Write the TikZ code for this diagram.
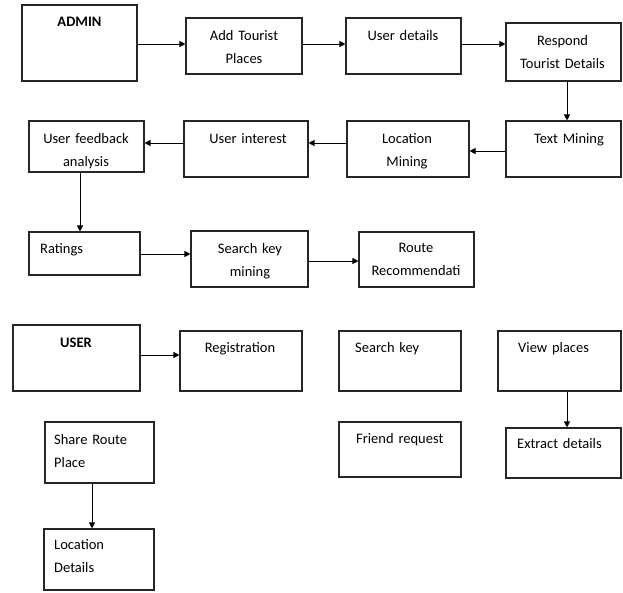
\documentclass[tikz,border=0pt]{standalone}
\usepackage{fontspec}
\setmainfont[WordSpace=0.6]{Carlito}
\usetikzlibrary{arrows.meta}
\tikzset{
  box/.style={draw=black!85, line width=1.1pt, inner sep=0pt},
  txt/.style={inner sep=0pt, font=\fontsize{14.5}{23}\selectfont},
  ctxt/.style={txt, text width=130pt, align=center, anchor=base},
  ltxt/.style={txt, text width=110pt, align=left, anchor=base west},
  arr/.style={draw=black, line width=0.9pt, -{Triangle[length=6pt,width=6pt]}}
}
\begin{document}
\begin{tikzpicture}[x=1pt,y=-1pt]
\useasboundingbox (0,0) rectangle (623,592);
% boxes
\node[box, minimum width=115pt, minimum height=76pt] (admin) at (79.5,43) {};
\node[box, minimum width=116pt, minimum height=56pt] (add) at (244,46) {};
\node[box, minimum width=115pt, minimum height=56pt] (ud) at (403.5,46) {};
\node[box, minimum width=115pt, minimum height=58pt] (resp) at (563.5,52) {};
\node[box, minimum width=115pt, minimum height=56pt] (tm) at (563.5,149) {};
\node[box, minimum width=122pt, minimum height=56pt] (lm) at (408,149) {};
\node[box, minimum width=124pt, minimum height=56pt] (ui) at (246,149) {};
\node[box, minimum width=115pt, minimum height=51pt] (ufa) at (86.5,146.5) {};
\node[box, minimum width=111pt, minimum height=43pt] (rat) at (84.5,253.5) {};
\node[box, minimum width=117pt, minimum height=56pt] (skm) at (249.5,259) {};
\node[box, minimum width=115pt, minimum height=55pt] (rr) at (416.5,259.5) {};
\node[box, minimum width=127pt, minimum height=66pt] (user) at (76.5,358) {};
\node[box, minimum width=122pt, minimum height=60pt] (reg) at (241,361) {};
\node[box, minimum width=122pt, minimum height=60pt] (sk) at (400,361) {};
\node[box, minimum width=123pt, minimum height=60pt] (vp) at (559.5,361) {};
\node[box, minimum width=122pt, minimum height=55pt] (fr) at (400,449.5) {};
\node[box, minimum width=115pt, minimum height=50pt] (ed) at (563.5,453) {};
\node[box, minimum width=109pt, minimum height=61pt] (srp) at (99.5,452.5) {};
\node[box, minimum width=110pt, minimum height=61pt] (ld) at (99,559.5) {};
% texts
\node[ctxt, font=\fontsize{14.5}{23}\selectfont\bfseries] (tadmin) at (79.5,26) {ADMIN};
\node[ctxt] (tadd) at (244,40) {Add Tourist\\Places};
\node[ctxt] (tud) at (403,40) {User details};
\node[ctxt] (tresp) at (562.5,45) {Respond\\Tourist Details};
\node[ctxt] (ttm) at (569,143) {Text Mining};
\node[ctxt] (tlm) at (407,143) {Location\\Mining};
\node[ctxt] (tui) at (248,143) {User interest};
\node[ctxt] (tufa) at (86,143) {User feedback\\analysis};
\node[ltxt] (trat) at (40,253) {Ratings};
\node[ctxt] (tskm) at (250,253) {Search key\\mining};
\node[ctxt] (trr) at (416,252) {Route\\Recommendati};
\node[ctxt, font=\fontsize{14.5}{23}\selectfont\bfseries] (tuser) at (76,347) {USER};
\node[ctxt] (treg) at (240,352) {Registration};
\node[ltxt] (tsk) at (355,352) {Search key};
\node[ltxt] (tvp) at (518,352) {View places};
\node[ltxt] (tfr) at (356,443) {Friend request};
\node[ltxt] (ted) at (517,448) {Extract details};
\node[ltxt] (tsrp) at (54,444) {Share Route\\Place};
\node[ltxt] (tld) at (54,549) {Location\\Details};
% connectors
\draw[arr] (admin.east |- 0,44) -- (add.west |- 0,44);
\draw[arr] (add.east |- 0,44) -- (ud.west |- 0,44);
\draw[arr] (ud.east |- 0,44) -- (resp.west |- 0,44);
\draw[arr] (resp.south -| 567,0) -- (tm.north -| 567,0);
\draw[arr] (tm.west |- 0,151) -- (lm.east |- 0,151);
\draw[arr] (lm.west |- 0,143) -- (ui.east |- 0,143);
\draw[arr] (ui.west |- 0,143) -- (ufa.east |- 0,143);
\draw[arr] (ufa.south -| 80,0) -- (rat.north -| 80,0);
\draw[arr] (rat.east |- 0,254) -- (skm.west |- 0,254);
\draw[arr] (skm.east |- 0,261) -- (rr.west |- 0,261);
\draw[arr] (user.east |- 0,355) -- (reg.west |- 0,355);
\draw[arr] (vp.south -| 567,0) -- (ed.north -| 567,0);
\draw[arr] (srp.south -| 92,0) -- (ld.north -| 92,0);
\end{tikzpicture}
\end{document}
